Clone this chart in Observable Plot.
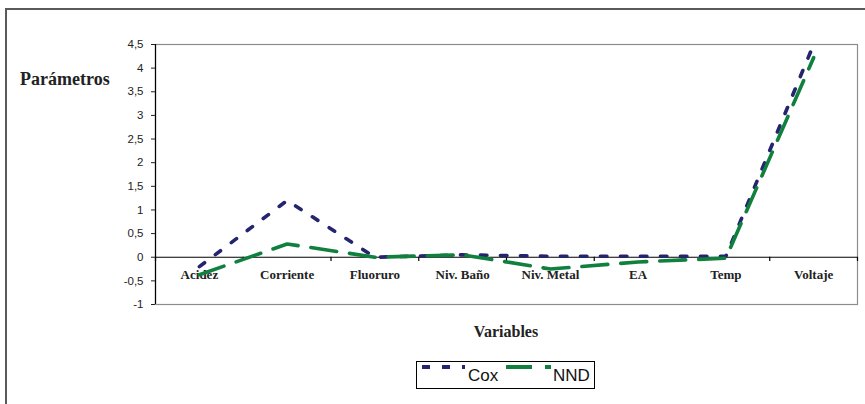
<!DOCTYPE html>
<html><head><meta charset="utf-8">
<script src="https://cdn.jsdelivr.net/npm/d3@7"></script>
<script src="https://cdn.jsdelivr.net/npm/@observablehq/plot@0.6"></script>
<style>
body{margin:0;background:#fff;}
#wrap{position:relative;width:865px;height:404px;overflow:hidden;background:#fff;}
#wrap svg{position:absolute;left:0;top:0;}
.frame{position:absolute;left:5px;top:8px;width:900px;height:420px;border-left:2px solid #5a5a5a;border-top:2px solid #5a5a5a;}
.ytitle{position:absolute;left:20px;top:70px;font:bold 18px "Liberation Serif","Times New Roman",serif;line-height:18px;color:#222;}
.xtitle{position:absolute;left:406px;top:324px;width:200px;text-align:center;font:bold 16px "Liberation Serif","Times New Roman",serif;line-height:16px;color:#222;}
.legend{position:absolute;left:416px;top:361px;width:177px;height:26px;border:1px solid #000;background:#fff;}
.legend .lt{position:absolute;top:5px;font:17px "Liberation Sans",Arial,sans-serif;line-height:17px;color:#111;}
.legend svg{position:absolute;top:8px;}
</style></head><body>
<div id="wrap"><div class="frame"></div></div>
<script>
const categories = ["Acidez","Corriente","Fluoruro","Niv. Baño","Niv. Metal","EA","Temp","Voltaje"];
const cox = [-0.2, 1.2, 0, 0.05, 0.02, 0.02, 0.02, 4.5];
const nnd = [-0.37, 0.28, 0, 0.05, -0.25, -0.1, -0.02, 4.22];
const yTicks = [-1, -0.5, 0, 0.5, 1, 1.5, 2, 2.5, 3, 3.5, 4, 4.5];
const seriesNames = ["Cox", "NND"];
const colors = ["#24246f", "#10803f"];
const dashes = ["6.5,13.5", "26,13"];
const legendDashes = ["8,12", "26,13"];

const boundaries = d3.range(categories.length + 1);
const xc = (d, i) => i + 0.5;

const chart = Plot.plot({
  width: 865, height: 404,
  marginLeft: 155, marginRight: 8, marginTop: 44, marginBottom: 100,
  style: {fontFamily: '"Liberation Sans", Arial, sans-serif', fontSize: "11.5px", background: "transparent", color: "#222"},
  x: {domain: [0, categories.length], axis: null},
  y: {domain: [-1, 4.5], ticks: yTicks, tickFormat: d => String(d).replace(".", ","), tickSize: 4, tickPadding: 8, label: null},
  marks: [
    Plot.frame({stroke: "#8c8c8c", strokeWidth: 1.2}),
    Plot.ruleX([0], {stroke: "#000", strokeWidth: 1.2}),
    Plot.ruleY([0], {stroke: "#000", strokeWidth: 1.2}),
    Plot.ruleX(boundaries, {y1: 0, y2: -0.09, stroke: "#000", strokeWidth: 1.2}),
    Plot.text(categories, {x: xc, y: 0, dy: 18, text: d => d, fontFamily: '"Liberation Serif","Times New Roman",serif', fontWeight: "bold", fontSize: 13, fill: "#222"}),
    Plot.line(categories, {x: xc, y: (d, i) => cox[i], stroke: colors[0], strokeWidth: 3.6, strokeDasharray: dashes[0], strokeLinejoin: "miter"}),
    Plot.line(categories, {x: xc, y: (d, i) => nnd[i], stroke: colors[1], strokeWidth: 3.6, strokeDasharray: dashes[1], strokeLinejoin: "miter"})
  ]
});
const wrap = document.getElementById("wrap");
wrap.appendChild(chart);

const yt = document.createElement("div"); yt.className = "ytitle"; yt.textContent = "Parámetros"; wrap.appendChild(yt);
const xt = document.createElement("div"); xt.className = "xtitle"; xt.textContent = "Variables"; wrap.appendChild(xt);

const lg = document.createElement("div"); lg.className = "legend";
const items = [{lx: 5, lw: 43, tx: 51}, {lx: 89, lw: 45, tx: 136}];
seriesNames.forEach((name, k) => {
  const s = d3.create("svg").attr("width", items[k].lw).attr("height", 10).style("left", items[k].lx + "px");
  s.append("line").attr("x1", 0).attr("x2", items[k].lw).attr("y1", 5).attr("y2", 5)
    .attr("stroke", colors[k]).attr("stroke-width", 4).attr("stroke-dasharray", legendDashes[k]);
  lg.appendChild(s.node());
  const t = document.createElement("div"); t.className = "lt"; t.style.left = items[k].tx + "px"; t.textContent = name;
  lg.appendChild(t);
});
wrap.appendChild(lg);
</script></body></html>
